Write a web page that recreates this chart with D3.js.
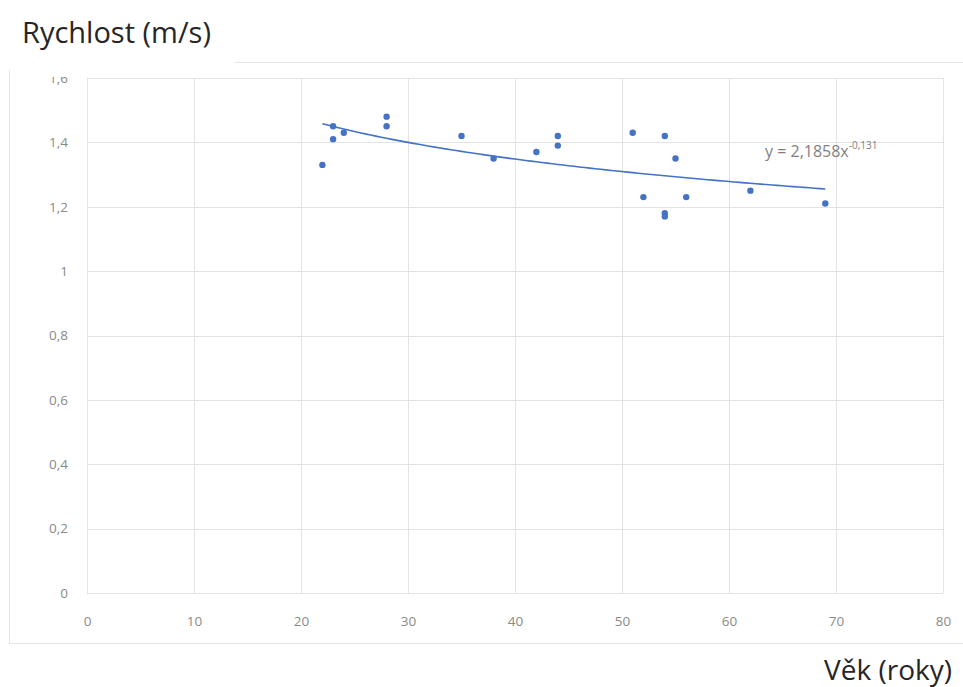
<!DOCTYPE html>
<html>
<head>
<meta charset="utf-8">
<script src="https://cdn.jsdelivr.net/npm/d3@7"></script>
<style>
  body { margin: 0; background: #fff; }
  svg text { font-family: "Open Sans", sans-serif; }
</style>
</head>
<body>
<svg id="chart"></svg>
<script>
// vek (roky) a rychlost (m/s)
let ages =   [22, 23, 23, 24, 28, 28, 35, 38, 42, 44, 44, 51, 52, 54, 55, 54, 54, 56, 62, 69];
let speeds = [1.33, 1.45, 1.41, 1.43, 1.48, 1.45, 1.42, 1.35, 1.37, 1.42, 1.39, 1.43, 1.23, 1.42, 1.35, 1.17, 1.18, 1.23, 1.25, 1.21];

let xTicks = [0, 10, 20, 30, 40, 50, 60, 70, 80],
    yTicks = [0, 0.2, 0.4, 0.6, 0.8, 1, 1.2, 1.4, 1.6];

// mocninna spojnice trendu z grafu: y = 2,1858x^-0,131
let trendA = 2.1858,
    trendB = -0.131;

let width = 963,
    height = 687;

let plotLeft = 87,
    plotRight = 943,
    plotTop = 78,
    plotBottom = 593;

let blue = "#4472c4",
    gridColor = "#e3e3e3",
    labelColor = "#8a8a8a";

let svg = d3.select("#chart").attr("width", width).attr("height", height);

let x = d3.scaleLinear().domain([0, 80]).range([plotLeft, plotRight]);
let y = d3.scaleLinear().domain([0, 1.6]).range([plotBottom, plotTop]);

let fmt = function (d) { return String(d).replace(".", ","); };

// ramecek grafu
let frame = svg.append("g").attr("stroke", "#e6e6e6").attr("fill", "none");
frame.append("line").attr("x1", 235).attr("x2", width).attr("y1", 62.5).attr("y2", 62.5);
frame.append("line").attr("x1", 9.5).attr("x2", 9.5).attr("y1", 70).attr("y2", 643);
frame.append("line").attr("x1", 9).attr("x2", width).attr("y1", 643.5).attr("y2", 643.5);

// mrizka
let grid = svg.append("g").attr("stroke", gridColor).attr("stroke-width", 1);
grid.selectAll("line.h")
    .data(yTicks)
    .enter().append("line")
    .attr("class", "h")
    .attr("x1", plotLeft).attr("x2", plotRight)
    .attr("y1", function (d) { return Math.round(y(d)) + 0.5; })
    .attr("y2", function (d) { return Math.round(y(d)) + 0.5; });
grid.selectAll("line.v")
    .data(xTicks)
    .enter().append("line")
    .attr("class", "v")
    .attr("y1", plotTop).attr("y2", plotBottom)
    .attr("x1", function (d) { return Math.round(x(d)) + 0.5; })
    .attr("x2", function (d) { return Math.round(x(d)) + 0.5; });

// osy
let yAxis = svg.append("g")
    .attr("transform", "translate(" + (plotLeft - 16) + ",0)")
    .call(d3.axisLeft(y).tickValues(yTicks).tickFormat(fmt).tickSize(0));
let xAxis = svg.append("g")
    .attr("transform", "translate(0," + (plotBottom + 20) + ")")
    .call(d3.axisBottom(x).tickValues(xTicks).tickFormat(fmt).tickSize(0));
[xAxis, yAxis].forEach(function (ax) {
    ax.select(".domain").remove();
    ax.selectAll("text")
        .attr("fill", labelColor)
        .style("font-size", "13.5px")
        .style("font-family", "\"Open Sans\", sans-serif");
});

// horni popisek 1,6 je v originale oriznuty
svg.append("rect").attr("x", 30).attr("y", 63).attr("width", 50).attr("height", 14).attr("fill", "#fff");

// spojnice trendu
let trendX = d3.range(d3.min(ages), d3.max(ages) + 0.5, 0.5);
let line = d3.line()
    .x(function (d) { return x(d); })
    .y(function (d) { return y(trendA * Math.pow(d, trendB)); });
svg.append("path")
    .datum(trendX)
    .attr("d", line)
    .attr("fill", "none")
    .attr("stroke", blue)
    .attr("stroke-width", 1.6);

// body
svg.append("g")
    .selectAll("circle")
    .data(ages)
    .enter().append("circle")
    .attr("cx", function (d) { return x(d); })
    .attr("cy", function (d, i) { return y(speeds[i]); })
    .attr("r", 3.2)
    .attr("fill", blue);

// rovnice
let eq = svg.append("text")
    .attr("x", 765)
    .attr("y", 157)
    .attr("fill", "#7f7f7f")
    .style("font-size", "16px");
eq.append("tspan").text("y = 2,1858x");
eq.append("tspan").attr("dy", -8).style("font-size", "10px").text("-0,131");

// popisky os
svg.append("text")
    .attr("x", 22)
    .attr("y", 43)
    .attr("fill", "#262626")
    .style("font-size", "29px")
    .text("Rychlost (m/s)");

svg.append("text")
    .attr("x", 952)
    .attr("y", 680)
    .attr("text-anchor", "end")
    .attr("fill", "#262626")
    .style("font-size", "28px")
    .text("Věk (roky)");
</script>
</body>
</html>
